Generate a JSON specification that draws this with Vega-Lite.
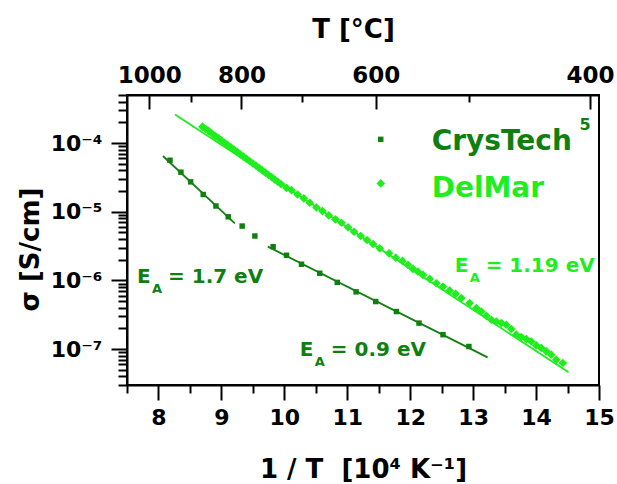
{
  "$schema": "https://vega.github.io/schema/vega-lite/v6.json",
  "width": 472,
  "height": 290,
  "autosize": {"type": "none"},
  "padding": {"left": 127, "top": 95, "right": 18, "bottom": 99},
  "background": "white",
  "config": {
    "view": {"stroke": "black", "strokeWidth": 2},
    "axis": {
      "grid": false,
      "domainColor": "black",
      "domainWidth": 2,
      "tickColor": "black",
      "tickWidth": 2,
      "labelColor": "black",
      "titleColor": "black",
      "labelFont": "DejaVu Sans",
      "labelFontWeight": "bold",
      "titleFont": "DejaVu Sans",
      "titleFontWeight": "bold",
      "labelOverlap": false,
      "labelFlush": false
    },
    "text": {"font": "DejaVu Sans", "fontWeight": "bold"}
  },
  "datasets": {
    "points": [
      {"series": "CrysTech", "x": 8.183, "sigma": 5.61e-5},
      {"series": "CrysTech", "x": 8.357, "sigma": 3.76e-5},
      {"series": "CrysTech", "x": 8.511, "sigma": 2.72e-5},
      {"series": "CrysTech", "x": 8.711, "sigma": 1.78e-5},
      {"series": "CrysTech", "x": 8.913, "sigma": 1.21e-5},
      {"series": "CrysTech", "x": 9.108, "sigma": 8.43e-6},
      {"series": "CrysTech", "x": 9.330, "sigma": 6.18e-6},
      {"series": "CrysTech", "x": 9.532, "sigma": 4.43e-6},
      {"series": "CrysTech", "x": 9.822, "sigma": 3.10e-6},
      {"series": "CrysTech", "x": 10.035, "sigma": 2.32e-6},
      {"series": "CrysTech", "x": 10.273, "sigma": 1.72e-6},
      {"series": "CrysTech", "x": 10.563, "sigma": 1.27e-6},
      {"series": "CrysTech", "x": 10.841, "sigma": 9.35e-7},
      {"series": "CrysTech", "x": 11.140, "sigma": 6.81e-7},
      {"series": "CrysTech", "x": 11.452, "sigma": 4.92e-7},
      {"series": "CrysTech", "x": 11.781, "sigma": 3.52e-7},
      {"series": "CrysTech", "x": 12.140, "sigma": 2.39e-7},
      {"series": "CrysTech", "x": 12.521, "sigma": 1.62e-7},
      {"series": "CrysTech", "x": 12.933, "sigma": 1.09e-7},
      {"series": "DelMar", "x": 8.70, "sigma": 1.73e-4},
      {"series": "DelMar", "x": 8.75, "sigma": 1.60e-4},
      {"series": "DelMar", "x": 8.80, "sigma": 1.49e-4},
      {"series": "DelMar", "x": 8.85, "sigma": 1.37e-4},
      {"series": "DelMar", "x": 8.90, "sigma": 1.27e-4},
      {"series": "DelMar", "x": 8.95, "sigma": 1.18e-4},
      {"series": "DelMar", "x": 9.00, "sigma": 1.09e-4},
      {"series": "DelMar", "x": 9.05, "sigma": 1.01e-4},
      {"series": "DelMar", "x": 9.10, "sigma": 9.34e-5},
      {"series": "DelMar", "x": 9.15, "sigma": 8.64e-5},
      {"series": "DelMar", "x": 9.20, "sigma": 8.00e-5},
      {"series": "DelMar", "x": 9.25, "sigma": 7.41e-5},
      {"series": "DelMar", "x": 9.30, "sigma": 6.85e-5},
      {"series": "DelMar", "x": 9.35, "sigma": 6.35e-5},
      {"series": "DelMar", "x": 9.40, "sigma": 5.87e-5},
      {"series": "DelMar", "x": 9.45, "sigma": 5.43e-5},
      {"series": "DelMar", "x": 9.50, "sigma": 5.03e-5},
      {"series": "DelMar", "x": 9.55, "sigma": 4.66e-5},
      {"series": "DelMar", "x": 9.60, "sigma": 4.31e-5},
      {"series": "DelMar", "x": 9.65, "sigma": 3.99e-5},
      {"series": "DelMar", "x": 9.70, "sigma": 3.70e-5},
      {"series": "DelMar", "x": 9.75, "sigma": 3.42e-5},
      {"series": "DelMar", "x": 9.80, "sigma": 3.17e-5},
      {"series": "DelMar", "x": 9.85, "sigma": 2.93e-5},
      {"series": "DelMar", "x": 9.90, "sigma": 2.71e-5},
      {"series": "DelMar", "x": 9.95, "sigma": 2.51e-5},
      {"series": "DelMar", "x": 10.035, "sigma": 2.22e-5},
      {"series": "DelMar", "x": 10.114, "sigma": 2.06e-5},
      {"series": "DelMar", "x": 10.210, "sigma": 1.78e-5},
      {"series": "DelMar", "x": 10.310, "sigma": 1.56e-5},
      {"series": "DelMar", "x": 10.405, "sigma": 1.35e-5},
      {"series": "DelMar", "x": 10.511, "sigma": 1.15e-5},
      {"series": "DelMar", "x": 10.606, "sigma": 1.02e-5},
      {"series": "DelMar", "x": 10.706, "sigma": 8.83e-6},
      {"series": "DelMar", "x": 10.813, "sigma": 7.73e-6},
      {"series": "DelMar", "x": 10.908, "sigma": 6.90e-6},
      {"series": "DelMar", "x": 11.013, "sigma": 5.92e-6},
      {"series": "DelMar", "x": 11.108, "sigma": 5.11e-6},
      {"series": "DelMar", "x": 11.214, "sigma": 4.43e-6},
      {"series": "DelMar", "x": 11.314, "sigma": 3.87e-6},
      {"series": "DelMar", "x": 11.410, "sigma": 3.39e-6},
      {"series": "DelMar", "x": 11.516, "sigma": 2.93e-6},
      {"series": "DelMar", "x": 11.663, "sigma": 2.48e-6},
      {"series": "DelMar", "x": 11.770, "sigma": 2.14e-6},
      {"series": "DelMar", "x": 11.876, "sigma": 1.92e-6},
      {"series": "DelMar", "x": 11.965, "sigma": 1.68e-6},
      {"series": "DelMar", "x": 12.044, "sigma": 1.47e-6},
      {"series": "DelMar", "x": 12.124, "sigma": 1.34e-6},
      {"series": "DelMar", "x": 12.203, "sigma": 1.20e-6},
      {"series": "DelMar", "x": 12.310, "sigma": 1.05e-6},
      {"series": "DelMar", "x": 12.416, "sigma": 9.10e-7},
      {"series": "DelMar", "x": 12.521, "sigma": 8.13e-7},
      {"series": "DelMar", "x": 12.627, "sigma": 7.11e-7},
      {"series": "DelMar", "x": 12.722, "sigma": 6.37e-7},
      {"series": "DelMar", "x": 12.813, "sigma": 5.52e-7},
      {"series": "DelMar", "x": 12.944, "sigma": 4.67e-7},
      {"series": "DelMar", "x": 13.051, "sigma": 3.95e-7},
      {"series": "DelMar", "x": 13.130, "sigma": 3.52e-7},
      {"series": "DelMar", "x": 13.210, "sigma": 3.05e-7},
      {"series": "DelMar", "x": 13.289, "sigma": 2.67e-7},
      {"series": "DelMar", "x": 13.368, "sigma": 2.52e-7},
      {"series": "DelMar", "x": 13.448, "sigma": 2.39e-7},
      {"series": "DelMar", "x": 13.527, "sigma": 2.26e-7},
      {"series": "DelMar", "x": 13.606, "sigma": 1.96e-7},
      {"series": "DelMar", "x": 13.686, "sigma": 1.62e-7},
      {"series": "DelMar", "x": 13.765, "sigma": 1.50e-7},
      {"series": "DelMar", "x": 13.844, "sigma": 1.40e-7},
      {"series": "DelMar", "x": 13.924, "sigma": 1.29e-7},
      {"series": "DelMar", "x": 14.003, "sigma": 1.13e-7},
      {"series": "DelMar", "x": 14.083, "sigma": 1.04e-7},
      {"series": "DelMar", "x": 14.162, "sigma": 9.27e-8},
      {"series": "DelMar", "x": 14.241, "sigma": 8.30e-8},
      {"series": "DelMar", "x": 14.321, "sigma": 7.02e-8},
      {"series": "DelMar", "x": 14.425, "sigma": 6.28e-8}
    ],
    "fits": [
      {"fit": "A", "series": "CrysTech", "x": 8.071, "sigma": 6.47e-5},
      {"fit": "A", "series": "CrysTech", "x": 9.214, "sigma": 6.76e-6},
      {"fit": "B", "series": "CrysTech", "x": 9.738, "sigma": 3.10e-6},
      {"fit": "B", "series": "CrysTech", "x": 13.230, "sigma": 7.58e-8},
      {"fit": "C", "series": "DelMar", "x": 8.262, "sigma": 2.61e-4},
      {"fit": "C", "series": "DelMar", "x": 14.516, "sigma": 4.59e-8}
    ],
    "notes": [
      {"value": "= 1.7 eV", "series": "CrysTech", "x": 7.659, "sigma": 9.2e-7},
      {"value": "= 0.9 eV", "series": "CrysTech", "x": 10.246, "sigma": 7.83e-8},
      {"value": "= 1.19 eV", "series": "DelMar", "x": 12.706, "sigma": 1.34e-6}
    ],
    "legendMarks": [
      {"series": "CrysTech", "x": 11.532, "sigma": 1.13e-4},
      {"series": "DelMar", "x": 11.532, "sigma": 2.58e-5}
    ],
    "legendText": [
      {"series": "CrysTech", "label": "CrysTech", "x": 12.341, "sigma": 7.84e-5},
      {"series": "DelMar", "label": "DelMar", "x": 12.341, "sigma": 1.63e-5}
    ],
    "legendSup": [
      {"series": "CrysTech", "label": "5", "x": 14.69, "sigma": 1.53e-4}
    ]
  },
  "resolve": {"axis": {"x": "independent", "y": "independent"}},
  "layer": [
    {
      "data": {"name": "fits"},
      "mark": {"type": "line", "strokeWidth": 1.8},
      "encoding": {
        "x": {
          "field": "x", "type": "quantitative",
          "scale": {"domain": [7.5, 15], "nice": false, "zero": false},
          "axis": {
            "orient": "top",
            "values": [7.8545, 8.5241, 9.3184, 10.2759, 11.4528, 12.9341, 14.8555],
            "labelExpr": "round(10000/datum.value-273.15) % 200 == 0 ? format(round(10000/datum.value-273.15), 'd') : ''",
            "tickSize": {"condition": {"test": "round(10000/datum.value-273.15) % 200 == 0", "value": -14}, "value": -7},
            "labelFontSize": 23,
            "labelPadding": 27,
            "labelBaseline": "alphabetic",
            "title": "T [°C]",
            "titleFontSize": 26,
            "titleX": 226,
            "titleY": -58,
            "titleBaseline": "alphabetic",
            "titleAlign": "center"
          }
        },
        "y": {
          "field": "sigma", "type": "quantitative",
          "scale": {"type": "log", "domain": [3e-8, 5e-4], "nice": false},
          "axis": null
        },
        "color": {
          "field": "series", "type": "nominal",
          "scale": {"domain": ["CrysTech", "DelMar"], "range": ["#0f800f", "#1eee1e"]},
          "legend": null
        },
        "detail": {"field": "fit"}
      }
    },
    {
      "data": {"name": "points"},
      "mark": {"type": "point", "filled": true, "opacity": 1},
      "encoding": {
        "x": {
          "field": "x", "type": "quantitative",
          "axis": {
            "orient": "bottom",
            "values": [7.5, 8, 8.5, 9, 9.5, 10, 10.5, 11, 11.5, 12, 12.5, 13, 13.5, 14, 14.5, 15],
            "labelExpr": "datum.value % 1 == 0 ? format(datum.value, 'd') : ''",
            "tickSize": {"condition": {"test": "datum.value % 1 == 0", "value": 15}, "value": 8},
            "labelFontSize": 22,
            "labelPadding": 7,
            "title": "1 / T\u00a0\u00a0[10⁴ K⁻¹]",
            "titleFontSize": 26,
            "titleX": 236,
            "titleY": 92,
            "titleBaseline": "alphabetic",
            "titleAlign": "center"
          }
        },
        "y": {
          "field": "sigma", "type": "quantitative",
          "axis": {
            "orient": "left",
            "values": [3e-8, 4e-8, 5e-8, 6e-8, 7e-8, 8e-8, 9e-8, 1e-7, 2e-7, 3e-7, 4e-7, 5e-7, 6e-7, 7e-7, 8e-7, 9e-7, 1e-6, 2e-6, 3e-6, 4e-6, 5e-6, 6e-6, 7e-6, 8e-6, 9e-6, 1e-5, 2e-5, 3e-5, 4e-5, 5e-5, 6e-5, 7e-5, 8e-5, 9e-5, 1e-4, 2e-4, 3e-4, 4e-4, 5e-4],
            "labelExpr": "datum.value == 1e-4 ? '10⁻⁴' : datum.value == 1e-5 ? '10⁻⁵' : datum.value == 1e-6 ? '10⁻⁶' : datum.value == 1e-7 ? '10⁻⁷' : ''",
            "tickSize": {"condition": {"test": "indexof([1e-4, 1e-5, 1e-6, 1e-7], datum.value) >= 0", "value": 16}, "value": 9},
            "labelFontSize": 22,
            "labelPadding": 9,
            "title": "σ [S/cm]",
            "titleFontSize": 26,
            "titleAngle": -90,
            "titleX": -97,
            "titleY": 154,
            "titleBaseline": "middle",
            "titleAlign": "center"
          }
        },
        "color": {"field": "series", "type": "nominal", "legend": null},
        "shape": {
          "field": "series", "type": "nominal",
          "scale": {"domain": ["CrysTech", "DelMar"], "range": ["square", "diamond"]},
          "legend": null
        },
        "size": {
          "field": "series", "type": "nominal",
          "scale": {"domain": ["CrysTech", "DelMar"], "range": [30, 75]},
          "legend": null
        }
      }
    },
    {
      "data": {"name": "legendMarks"},
      "mark": {"type": "point", "filled": true, "opacity": 1},
      "encoding": {
        "x": {"field": "x", "type": "quantitative", "axis": null},
        "y": {"field": "sigma", "type": "quantitative", "axis": null},
        "color": {"field": "series", "type": "nominal", "legend": null},
        "shape": {"field": "series", "type": "nominal", "legend": null},
        "size": {"field": "series", "type": "nominal", "legend": null}
      }
    },
    {
      "data": {"name": "notes"},
      "mark": {"type": "text", "text": "E", "fontSize": 20, "align": "left", "baseline": "alphabetic"},
      "encoding": {
        "x": {"field": "x", "type": "quantitative", "axis": null},
        "y": {"field": "sigma", "type": "quantitative", "axis": null},
        "color": {"field": "series", "type": "nominal", "legend": null}
      }
    },
    {
      "data": {"name": "notes"},
      "mark": {"type": "text", "text": "A", "fontSize": 13, "align": "left", "baseline": "alphabetic", "dx": 15, "dy": 10},
      "encoding": {
        "x": {"field": "x", "type": "quantitative", "axis": null},
        "y": {"field": "sigma", "type": "quantitative", "axis": null},
        "color": {"field": "series", "type": "nominal", "legend": null}
      }
    },
    {
      "data": {"name": "notes"},
      "mark": {"type": "text", "fontSize": 20, "align": "left", "baseline": "alphabetic", "dx": 31},
      "encoding": {
        "x": {"field": "x", "type": "quantitative", "axis": null},
        "y": {"field": "sigma", "type": "quantitative", "axis": null},
        "text": {"field": "value"},
        "color": {"field": "series", "type": "nominal", "legend": null}
      }
    },
    {
      "data": {"name": "legendText"},
      "mark": {"type": "text", "fontSize": 28, "align": "left", "baseline": "alphabetic"},
      "encoding": {
        "x": {"field": "x", "type": "quantitative", "axis": null},
        "y": {"field": "sigma", "type": "quantitative", "axis": null},
        "text": {"field": "label"},
        "color": {"field": "series", "type": "nominal", "legend": null}
      }
    },
    {
      "data": {"name": "legendSup"},
      "mark": {"type": "text", "fontSize": 16, "align": "left", "baseline": "alphabetic"},
      "encoding": {
        "x": {"field": "x", "type": "quantitative", "axis": null},
        "y": {"field": "sigma", "type": "quantitative", "axis": null},
        "text": {"field": "label"},
        "color": {"field": "series", "type": "nominal", "legend": null}
      }
    }
  ]
}
